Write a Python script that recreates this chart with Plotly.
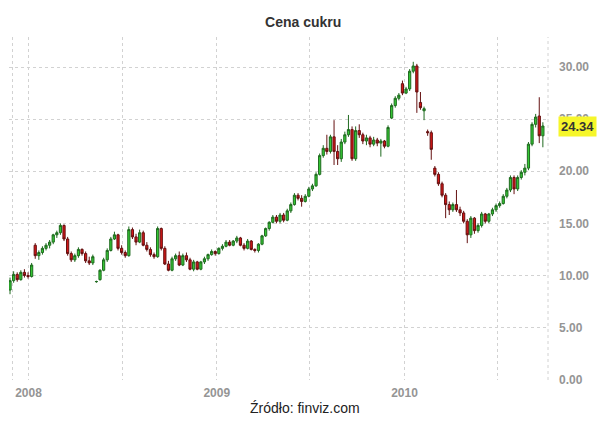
import pandas as pd
import plotly.graph_objects as go

# Weekly sugar prices (US cents/lb)
start_week = "2007-11-26"
open_ = [8.6, 9.5, 10.1, 9.6, 10.3, 10.0, 9.9, 12.9, 11.9, 12.2,
         12.6, 12.9, 13.2, 13.9, 14.1, 14.8, 13.5, 12.1, 11.5, 11.9,
         12.5, 12.1, 11.4, 11.2, 9.4, 9.6, 10.5, 11.5, 12.4, 13.5,
         13.9, 12.6, 12.2, 11.9, 14.4, 13.7, 13.2, 14.1, 12.9, 12.5,
         12.0, 11.8, 14.5, 12.6, 11.1, 10.5, 11.6, 11.9, 11.0, 11.9,
         11.5, 10.6, 11.3, 10.6, 11.3, 11.6, 12.0, 12.3, 12.1, 12.6,
         12.8, 13.2, 12.9, 13.3, 13.6, 12.9, 12.6, 13.3, 12.5, 12.4,
         13.0, 13.8, 14.5, 15.1, 15.6, 15.2, 15.8, 15.3, 16.2, 16.8,
         17.7, 17.4, 17.1, 17.6, 18.3, 18.6, 19.7, 21.5, 22.2, 21.9,
         23.3, 21.9, 21.2, 22.8, 23.5, 24.0, 21.2, 23.9, 23.5, 22.9,
         23.2, 22.6, 23.0, 22.7, 22.9, 22.4, 25.1, 26.3, 27.0, 28.4,
         27.5, 27.9, 29.6, 30.1, 26.6, 25.8, 23.8, 23.7, 20.3, 19.7,
         18.8, 17.7, 16.8, 16.3, 16.8, 16.3, 16.0, 15.2, 13.9, 15.5,
         14.3, 14.8, 15.9, 15.2, 15.9, 16.3, 16.7, 16.9, 17.6, 18.2,
         19.4, 18.3, 19.4, 19.9, 20.3, 22.6, 24.5, 25.3, 23.4]
high = [9.8, 10.4, 10.3, 10.5, 10.6, 10.3, 11.2, 13.1, 12.4, 12.8,
        13.1, 13.4, 14.0, 14.3, 15.0, 14.9, 13.7, 12.3, 12.1, 12.7,
        12.6, 12.3, 11.8, 12.0, 9.5, 10.6, 11.7, 12.6, 13.7, 14.2,
        14.0, 12.9, 12.4, 14.7, 14.6, 14.0, 14.4, 14.3, 13.2, 12.7,
        12.2, 14.7, 14.6, 12.8, 11.4, 11.8, 12.1, 12.3, 12.1, 12.2,
        11.7, 11.5, 11.4, 11.4, 11.8, 12.1, 12.5, 12.4, 12.7, 13.0,
        13.4, 13.4, 13.4, 13.8, 13.7, 13.1, 13.5, 13.4, 12.6, 13.1,
        13.9, 14.6, 15.2, 15.8, 15.8, 16.0, 16.0, 16.4, 17.0, 17.9,
        17.9, 17.7, 17.8, 18.5, 18.8, 19.9, 21.7, 22.5, 23.5, 23.5,
        24.9, 22.5, 23.1, 23.8, 25.4, 24.3, 24.3, 24.5, 23.7, 23.5,
        23.4, 23.3, 23.2, 23.1, 23.0, 24.4, 26.5, 27.2, 27.5, 28.7,
        28.1, 29.8, 30.5, 30.3, 27.6, 26.2, 24.0, 23.9, 20.5, 19.9,
        19.0, 17.9, 17.1, 17.0, 18.2, 16.6, 16.2, 15.4, 15.7, 15.6,
        15.0, 16.1, 16.0, 16.0, 16.5, 16.9, 17.1, 17.8, 18.4, 19.6,
        19.6, 19.6, 20.1, 20.7, 22.8, 24.7, 25.5, 27.1, 24.7]
low = [8.2, 9.3, 9.4, 9.5, 9.8, 9.7, 9.8, 11.6, 11.5, 12.0,
       12.4, 12.6, 13.0, 13.6, 13.9, 13.3, 11.9, 11.3, 11.3, 11.7,
       11.9, 11.2, 11.0, 11.0, 9.3, 9.5, 10.4, 11.3, 12.3, 13.4,
       12.4, 12.0, 11.7, 11.8, 13.5, 12.9, 13.1, 12.8, 12.3, 11.8,
       11.6, 11.7, 12.4, 11.0, 10.4, 10.4, 11.4, 10.9, 10.9, 11.3,
       10.5, 10.4, 10.5, 10.5, 11.1, 11.4, 11.9, 11.9, 12.0, 12.4,
       12.7, 12.8, 12.8, 13.1, 12.8, 12.4, 12.5, 12.4, 12.2, 12.2,
       12.9, 13.7, 14.3, 15.0, 15.0, 15.0, 15.1, 15.2, 16.0, 16.7,
       17.2, 16.6, 17.0, 17.5, 18.1, 18.5, 19.6, 21.3, 21.6, 21.7,
       20.6, 20.6, 20.9, 22.6, 23.3, 21.0, 21.0, 23.2, 22.6, 22.5,
       22.3, 22.4, 22.4, 21.4, 22.2, 22.3, 25.0, 26.1, 26.8, 27.3,
       27.4, 27.7, 29.4, 25.6, 25.9, 24.9, 23.4, 21.1, 19.5, 18.6,
       17.5, 15.5, 15.8, 16.1, 16.1, 15.7, 15.0, 13.1, 13.6, 14.0,
       14.1, 14.6, 15.0, 15.0, 15.7, 16.1, 16.5, 16.8, 17.4, 18.0,
       17.8, 18.1, 19.2, 19.6, 20.1, 22.4, 24.2, 22.7, 22.3]
close = [9.5, 10.1, 9.6, 10.3, 10.0, 9.9, 11.0, 11.9, 12.2, 12.6,
         12.9, 13.2, 13.9, 14.1, 14.8, 13.5, 12.1, 11.5, 11.9, 12.5,
         12.1, 11.4, 11.2, 11.8, 9.42, 10.5, 11.5, 12.4, 13.5, 13.9,
         12.6, 12.2, 11.9, 14.4, 13.7, 13.2, 14.1, 12.9, 12.5, 12.0,
         11.8, 14.5, 12.6, 11.1, 10.5, 11.6, 11.9, 11.0, 11.9, 11.5,
         10.6, 11.3, 10.6, 11.3, 11.6, 12.0, 12.3, 12.1, 12.6, 12.8,
         13.2, 12.9, 13.3, 13.6, 12.9, 12.6, 13.3, 12.5, 12.4, 13.0,
         13.8, 14.5, 15.1, 15.6, 15.2, 15.8, 15.3, 16.2, 16.8, 17.7,
         17.4, 17.1, 17.6, 18.3, 18.6, 19.7, 21.5, 22.2, 21.9, 23.3,
         21.9, 21.2, 22.8, 23.5, 24.0, 21.2, 23.9, 23.5, 22.9, 23.2,
         22.6, 23.0, 22.7, 22.9, 22.4, 24.2, 26.3, 27.0, 27.3, 27.5,
         27.9, 29.6, 30.1, 27.6, 26.1, 26.0, 23.7, 22.1, 19.7, 18.8,
         17.7, 16.8, 16.3, 16.8, 16.3, 16.0, 15.2, 13.9, 15.5, 14.3,
         14.8, 15.9, 15.2, 15.9, 16.3, 16.7, 16.9, 17.6, 18.2, 19.4,
         18.3, 19.4, 19.9, 20.3, 22.6, 24.5, 25.2, 23.4, 24.34]

x_tick_dates = ["2007-12-01", "2008-01-01", "2008-07-01", "2009-01-01",
                "2009-07-01", "2010-01-01", "2010-07-01"]
x_tick_labels = ["", "2008", "", "2009", "", "2010", ""]
y_tick_values = [0, 5, 10, 15, 20, 25, 30]

title_text = "Cena cukru"
source_text = "Źródło: finviz.com"

weeks = pd.date_range(start=start_week, periods=len(close), freq="7D")

fig = go.Figure()
fig.add_trace(go.Candlestick(
    x=weeks, open=open_, high=high, low=low, close=close,
    increasing=dict(fillcolor="#34c834", line=dict(color="#1f6a1f", width=1)),
    decreasing=dict(fillcolor="#d41616", line=dict(color="#641010", width=1)),
    whiskerwidth=0,
    showlegend=False,
    hoverinfo="skip",
))

grid_color = "#d2d2d2"
tick_font = dict(family="Liberation Sans, Arial, sans-serif", size=12,
                 color="#959595", weight="bold")

fig.update_layout(
    width=615, height=421,
    margin=dict(l=9, r=67, t=37, b=41),
    paper_bgcolor="white", plot_bgcolor="white",
    boxgap=0.12,
    title=dict(text=title_text, x=0.493, xanchor="center",
               y=1 - 22 / 421, yanchor="middle", xref="container", yref="container",
               font=dict(family="Liberation Sans, Arial, sans-serif", size=14,
                         color="#333333", weight="bold")),
    xaxis=dict(
        type="date",
        range=[weeks[0] - pd.Timedelta(days=2), weeks[-1] + pd.Timedelta(days=10)],
        tickvals=x_tick_dates, ticktext=x_tick_labels,
        showgrid=True, gridcolor=grid_color, griddash="3px,3px", gridwidth=1,
        zeroline=False, showline=False, ticks="",
        tickfont=tick_font, ticklabelstandoff=4,
        rangeslider=dict(visible=False),
        fixedrange=True,
    ),
    yaxis=dict(
        side="right",
        range=[-0.03, 32.88],
        tickvals=y_tick_values, tickformat=".2f",
        showgrid=True, gridcolor=grid_color, griddash="3px,3px", gridwidth=1,
        zeroline=False, showline=False, ticks="",
        tickfont=tick_font, ticklabelstandoff=10,
        fixedrange=True,
    ),
    shapes=[dict(type="line", xref="paper", yref="paper", x0=1, x1=1, y0=0, y1=1,
                 line=dict(color=grid_color, width=1, dash="3px,3px"))],
    annotations=[
        dict(xref="paper", yref="y", x=1, y=close[-1], xanchor="left", yanchor="middle",
             xshift=10, text=f"{close[-1]:.2f}", showarrow=False,
             bgcolor="#f6f62a", borderpad=2,
             font=dict(family="Liberation Sans, Arial, sans-serif", size=13,
                       color="#333333", weight="bold")),
        dict(xref="paper", yref="paper", x=(305 - 9) / 539, y=-28 / 343,
             xanchor="center", yanchor="middle", text=source_text, showarrow=False,
             font=dict(family="Liberation Sans Narrow, Liberation Sans, Arial, sans-serif",
                       size=14, color="#222222")),
    ],
)

# remove the browser's default 8px page margin so the figure sits at the window's corner
fig.write_html("out.html", config={"displayModeBar": False},
               post_script="document.body.style.margin='0';")
